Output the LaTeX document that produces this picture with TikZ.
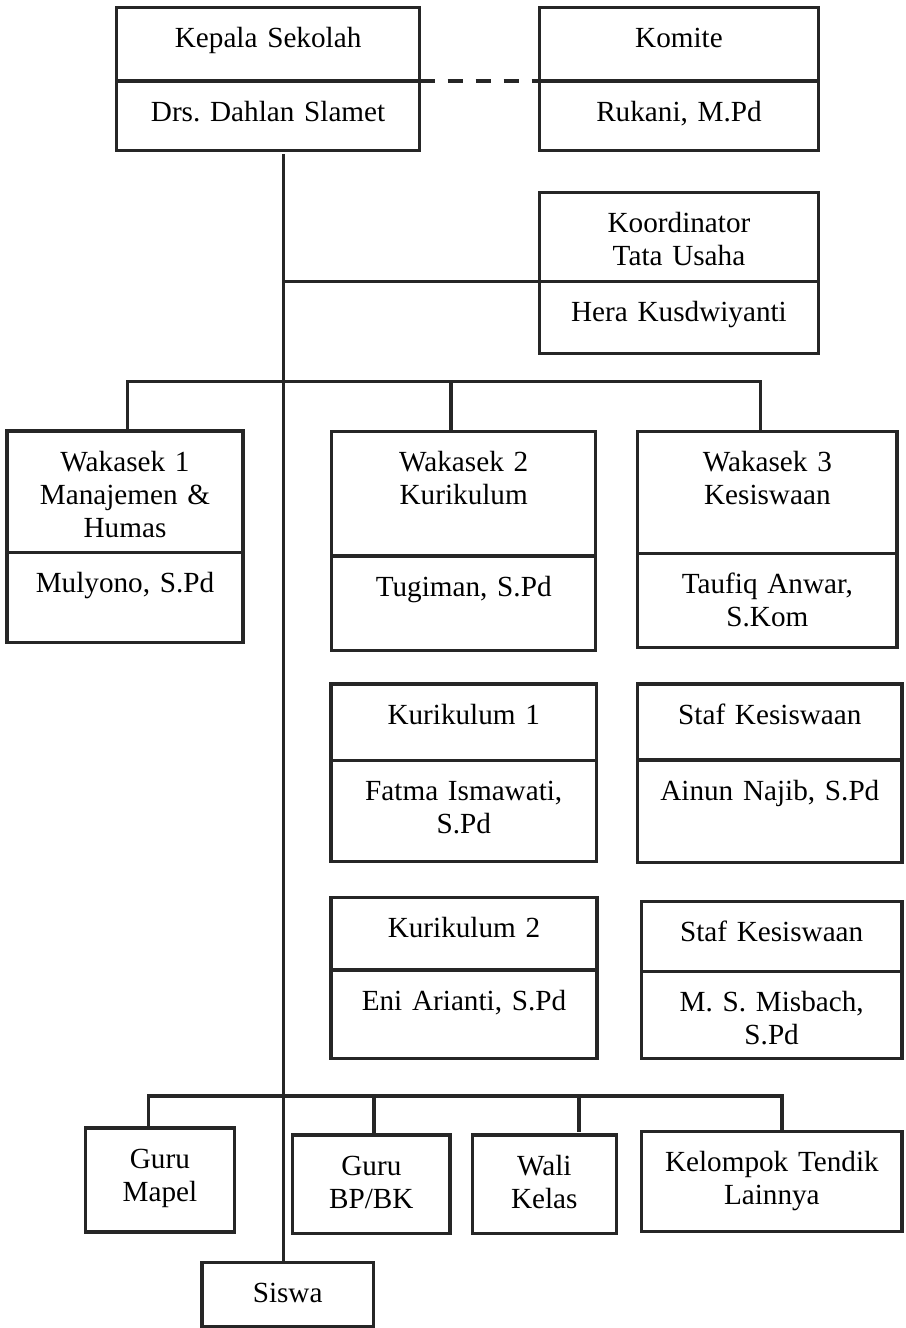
\documentclass[tikz,border=0pt]{standalone}
\usepackage{fontspec}
\setmainfont{Liberation Serif}
\frenchspacing
\usetikzlibrary{
  positioning,
}
\tikzset{
  org box/.style={
    draw=black!85,
    line width=1.7pt,
    inner sep=0pt,
    outer sep=0pt,
    align=center,
    text height=20pt
  },
  kotak/.style 2 args={
    org box,
    text width=#1*0.5pt,
    text depth=#2*0.5pt-20pt
  },
  garis/.style={
    draw=black!85,
    line width=1.7pt
  },
  garis putus/.style={
    garis,
    dash pattern=on 7.5pt off 6.5pt
  }
}

\begin{document}
\begin{tikzpicture}[x=0.5pt, y=-0.5pt, font=\fontsize{14.6pt}{16.6pt}\selectfont]
  \useasboundingbox (0,0) rectangle (905,1328);

  % pimpinan
  \node[kotak={303}{73.5}, anchor=north west] (kepala) at (116.6,7.5) {Kepala Sekolah};
  \node[kotak={303}{69.5}, below=0 of kepala] (kepalab) {Drs. Dahlan Slamet};
  \node[kotak={279}{73.5}, anchor=north west] (komite) at (539.5,7.5) {Komite};
  \node[kotak={279}{69.5}, below=0 of komite] (komiteb) {Rukani, M.Pd};
  \node[kotak={279}{89}, anchor=north west] (koor) at (539.5,192.7) {Koordinator\\Tata Usaha};
  \node[kotak={279}{71.6}, below=0 of koor] (koorb) {Hera Kusdwiyanti};

  % wakasek
  \node[kotak={236}{121.5}, anchor=north west] (waka1) at (7,431) {Wakasek 1\\Manajemen \&\\Humas};
  \node[kotak={236}{90}, below=0 of waka1] (waka1b) {Mulyono, S.Pd};
  \node[kotak={264}{124.3}, anchor=north west] (waka2) at (331.7,431.7) {Wakasek 2\\Kurikulum};
  \node[kotak={264}{94.7}, below=0 of waka2] (waka2b) {Tugiman, S.Pd};
  \node[kotak={259.5}{122}, anchor=north west] (waka3) at (637.6,431.7) {Wakasek 3\\Kesiswaan};
  \node[kotak={259.5}{94}, below=0 of waka3] (waka3b) {Taufiq Anwar,\\S.Kom};

  % staf
  \node[kotak={265.5}{76.7}, anchor=north west] (kur1) at (331,684) {Kurikulum 1};
  \node[kotak={265.5}{101}, below=0 of kur1] (kur1b) {Fatma Ismawati,\\S.Pd};
  \node[kotak={264.5}{76}, anchor=north west] (staf1) at (637.6,684) {Staf Kesiswaan};
  \node[kotak={264.5}{102.5}, below=0 of staf1] (staf1b) {Ainun Najib, S.Pd};
  \node[kotak={266}{72.3}, anchor=north west] (kur2) at (331,897.7) {Kurikulum 2};
  \node[kotak={266}{88.3}, below=0 of kur2] (kur2b) {Eni Arianti, S.Pd};
  \node[kotak={260.5}{70}, anchor=north west] (staf2) at (641.4,901.7) {Staf Kesiswaan};
  \node[kotak={260.5}{86.6}, below=0 of staf2] (staf2b) {M. S. Misbach,\\S.Pd};

  % guru dan siswa
  \node[kotak={149}{104}, anchor=north west] (mapel) at (85.4,1128) {Guru\\Mapel};
  \node[kotak={157.3}{98.3}, anchor=north west] (bpbk) at (292.7,1135) {Guru\\BP/BK};
  \node[kotak={144}{98.3}, anchor=north west] (wali) at (472.3,1135) {Wali\\Kelas};
  \node[kotak={260.3}{100}, anchor=north west] (tendik) at (641.7,1131.7) {Kelompok Tendik\\Lainnya};
  \node[kotak={171.3}{64.4}, anchor=north west] (siswa) at (202,1262.3) {Siswa};

  % garis
  \coordinate (trunk) at (283.3,154);
  \coordinate (w1) at (127.3,381.7);
  \coordinate (w2) at (451,381.7);
  \coordinate (w3) at (760.5,381.7);
  \coordinate (g1) at (148.3,1096);
  \coordinate (g2) at (374,1096);
  \coordinate (g3) at (579,1096);
  \coordinate (g4) at (782,1096);

  \draw[garis putus] (kepalab.north east) -- (komiteb.north west);
  \draw[garis] (trunk) -- (trunk |- siswa.north);
  \draw[garis] (koorb.north west) -- (koorb.north west -| trunk);
  \draw[garis] (w1 |- waka1.north) -- (w1) -- (w3) -- (w3 |- waka3.north);
  \draw[garis] (w2) -- (w2 |- waka2.north);
  \draw[garis] (g1 |- mapel.north) -- (g1) -- (g4) -- (g4 |- tendik.north);
  \draw[garis] (g2) -- (g2 |- bpbk.north);
  \draw[garis] (g3) -- (g3 |- tendik.north);
\end{tikzpicture}
\end{document}
